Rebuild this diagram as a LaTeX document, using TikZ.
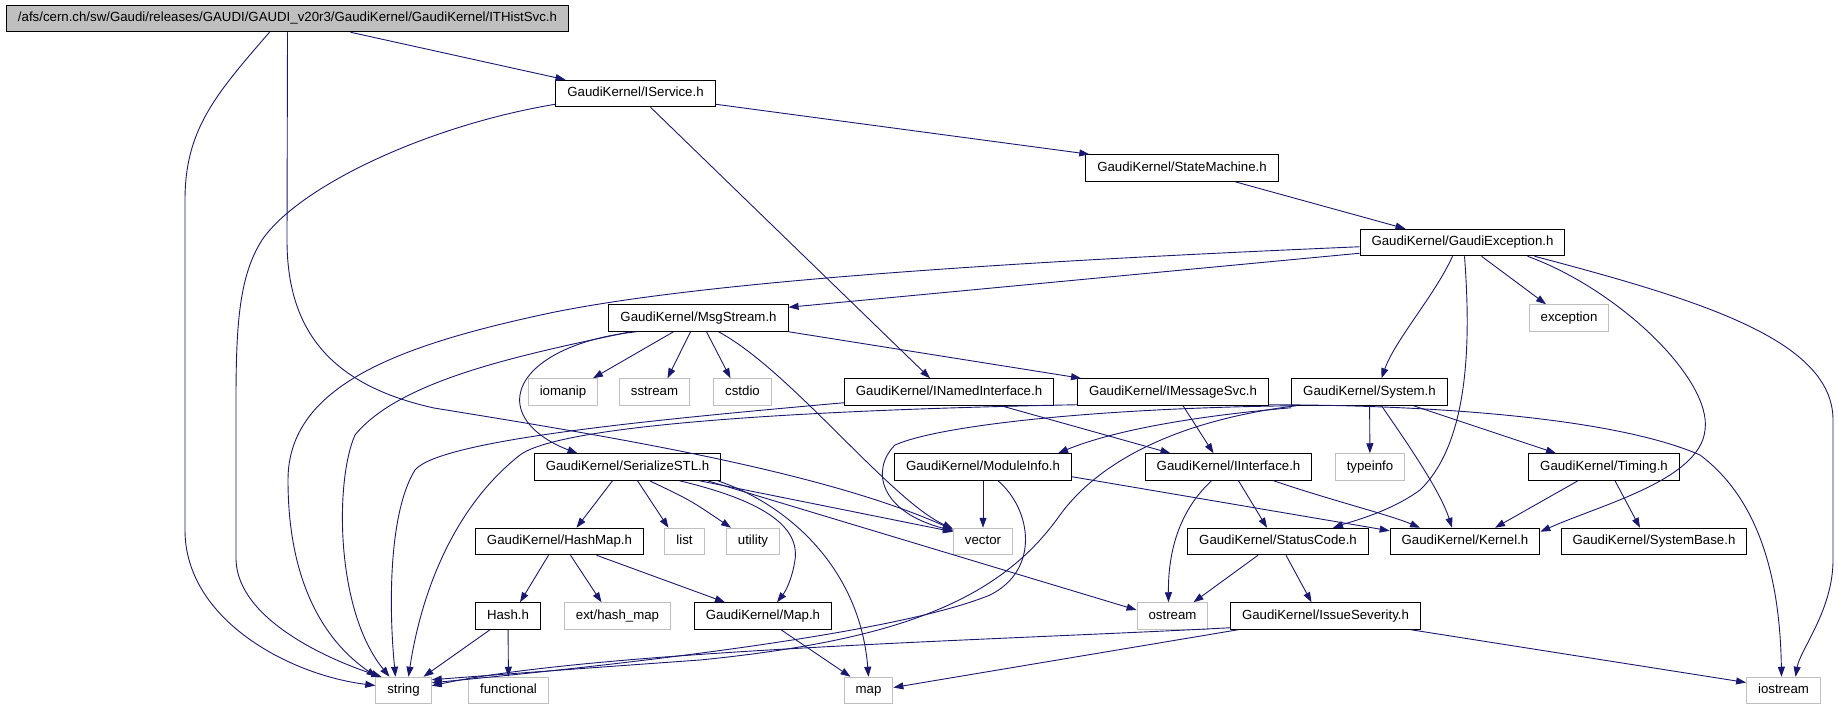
\documentclass[tikz,border=0pt]{standalone}
\usepackage{fontspec}
\setmainfont{Liberation Sans}
\usepackage{xcolor}
\usetikzlibrary{arrows.meta}
\definecolor{midnight}{HTML}{191970}
\definecolor{boxgray}{HTML}{BFBFBF}

\begin{document}
\begin{tikzpicture}[
  x=1pt, y=-1pt,
  header/.style={rectangle,draw=black,line width=1pt,inner xsep=11.5pt,inner ysep=0pt,
    minimum height=26.5pt,text height=9.6pt,text depth=2.7pt,font=\fontsize{13.25}{15}\selectfont},
  stdheader/.style={header,draw=boxgray},
  mainheader/.style={header,fill=boxgray},
  incl/.style={draw=midnight,line width=0.9pt,-{Triangle[length=10pt,width=7pt]}}
]
  \useasboundingbox (0,0) rectangle (1838,709);
  \node[mainheader] (hist) at (287.5,18.5) {/afs/cern.ch/sw/Gaudi/releases/GAUDI/GAUDI\_v20r3/GaudiKernel/GaudiKernel/ITHistSvc.h};
  \node[header] (isvc) at (635.5,93.5) {GaudiKernel/IService.h};
  \node[header] (stm) at (1182,168) {GaudiKernel/StateMachine.h};
  \node[header] (gex) at (1462.5,242.5) {GaudiKernel/GaudiException.h};
  \node[header] (msg) at (698.5,318) {GaudiKernel/MsgStream.h};
  \node[stdheader] (exc) at (1569,318) {exception};
  \node[stdheader] (iom) at (563,392) {iomanip};
  \node[stdheader] (sst) at (654.5,392) {sstream};
  \node[stdheader] (cst) at (742.5,392) {cstdio};
  \node[header] (nii) at (949,392) {GaudiKernel/INamedInterface.h};
  \node[header] (ims) at (1173,392) {GaudiKernel/IMessageSvc.h};
  \node[header] (sys) at (1369.5,392) {GaudiKernel/System.h};
  \node[header] (ser) at (627.5,467) {GaudiKernel/SerializeSTL.h};
  \node[header] (mod) at (983,467) {GaudiKernel/ModuleInfo.h};
  \node[header] (iif) at (1228.5,467) {GaudiKernel/IInterface.h};
  \node[stdheader] (tpi) at (1370,467) {typeinfo};
  \node[header] (tim) at (1604,467) {GaudiKernel/Timing.h};
  \node[header] (hmp) at (559.5,541.5) {GaudiKernel/HashMap.h};
  \node[stdheader] (lst) at (684.5,541.5) {list};
  \node[stdheader] (utl) at (753,541.5) {utility};
  \node[stdheader] (vec) at (983,541.5) {vector};
  \node[header] (stc) at (1278,541.5) {GaudiKernel/StatusCode.h};
  \node[header] (ker) at (1465,541.5) {GaudiKernel/Kernel.h};
  \node[header] (sbs) at (1654,541.5) {GaudiKernel/SystemBase.h};
  \node[header] (hsh) at (508,616) {Hash.h};
  \node[stdheader] (ehm) at (617.5,616) {ext/hash\_map};
  \node[header] (mph) at (763,616) {GaudiKernel/Map.h};
  \node[stdheader] (ost) at (1172.5,616) {ostream};
  \node[header] (iss) at (1325.5,616) {GaudiKernel/IssueSeverity.h};
  \node[stdheader] (str) at (403.5,690.5) {string};
  \node[stdheader] (fun) at (508.5,690.5) {functional};
  \node[stdheader] (smap) at (868.5,690.5) {map};
  \node[stdheader] (ios) at (1783.5,690.5) {iostream};

  \draw[incl] ([xshift=63pt]hist.south) -- ([xshift=-70pt]isvc.north);
  \draw[incl] ([xshift=-18pt]hist.south) .. controls (215,95) and (185,130) .. (185,200) -- (185,530) .. controls (185,620) and (290,675) .. ([yshift=5pt]str.west);
  \draw[incl] (hist.south) -- (287,240) .. controls (287,330) and (330,385) .. (434,408) .. controls (600,435) and (820,470) .. ([yshift=-2pt]vec.north west);

  \draw[incl] ([yshift=3pt]isvc.south east) -- ([xshift=4pt]stm.north west);
  \draw[incl] ([yshift=3pt]isvc.south west) .. controls (430,125) and (300,185) .. (262,240) .. controls (240,275) and (236,320) .. (236,400) -- (236,560) .. controls (238,620) and (330,660) .. ([xshift=-22pt]str.north);
  \draw[incl] ([xshift=15pt]isvc.south) -- ([xshift=-19pt]nii.north);
  \draw[incl] ([xshift=53pt]stm.south) -- ([xshift=-57pt]gex.north);

  \draw[incl] ([yshift=3pt]gex.south west) -- ([yshift=-3pt]msg.north east);
  \draw[incl] ([yshift=-18pt]gex.north west) .. controls (1000,262) and (700,282) .. (550,313) .. controls (400,345) and (288,385) .. (288,480) .. controls (288,590) and (330,645) .. ([xshift=-27pt]str.north);
  \draw[incl] ([xshift=19pt]gex.south) -- ([xshift=-23pt]exc.north);
  \draw[incl] ([xshift=-10pt]gex.south) .. controls (1435,295) and (1395,340) .. ([xshift=12pt]sys.north);
  \draw[incl] ([xshift=2pt]gex.south) .. controls (1470,330) and (1472,440) .. (1420,490) .. controls (1390,512) and (1350,522) .. ([xshift=55pt]stc.north);
  \draw[incl] ([xshift=65pt]gex.south) .. controls (1620,290) and (1712,380) .. (1705,430) .. controls (1700,480) and (1600,505) .. ([yshift=-4pt]ker.north east);
  \draw[incl] ([xshift=72pt]gex.south) .. controls (1700,300) and (1833,340) .. (1833,420) -- (1833,560) .. controls (1833,610) and (1800,650) .. ([xshift=12pt]ios.north);

  \draw[incl] ([xshift=-25pt]msg.south) -- ([xshift=30pt]iom.north);
  \draw[incl] ([xshift=-8pt]msg.south) -- ([xshift=13pt]sst.north);
  \draw[incl] ([xshift=8pt]msg.south) -- ([xshift=-12pt]cst.north);
  \draw[incl] ([xshift=20pt]msg.south) .. controls (790,370) and (890,500) .. ([yshift=-1pt]vec.north west);
  \draw[incl] (msg.south east) -- ([xshift=4pt]ims.north west);
  \draw[incl] ([xshift=-62pt]msg.south) .. controls (560,340) and (515,372) .. (520,405) .. controls (524,430) and (555,445) .. ([xshift=-50pt]ser.north);
  \draw[incl] ([xshift=-68pt]msg.south) .. controls (520,355) and (400,380) .. (355,435) .. controls (335,480) and (335,610) .. ([xshift=-14pt]str.north);

  \draw[incl] ([xshift=-15pt]ser.south) -- ([xshift=17pt]hmp.north);
  \draw[incl] ([xshift=10pt]ser.south) -- ([xshift=-16pt]lst.north);
  \draw[incl] ([xshift=22pt]ser.south) .. controls (690,500) .. ([xshift=-22pt]utl.north);
  \draw[incl] ([xshift=52pt]ser.south) .. controls (760,500) and (800,525) .. (795,560) .. controls (792,580) and (785,592) .. ([xshift=14pt]mph.north);
  \draw[incl] ([xshift=72pt]ser.south) -- ([yshift=-4pt]vec.north west);
  \draw[incl] ([xshift=80pt]ser.south) -- ([yshift=6pt]ost.west);
  \draw[incl] ([xshift=90pt]ser.south) .. controls (790,505) and (860,570) .. (smap.north);

  \draw[incl] ([xshift=-11pt]hmp.south) -- ([xshift=12pt]hsh.north);
  \draw[incl] ([xshift=11pt]hmp.south) -- ([xshift=-16pt]ehm.north);
  \draw[incl] ([xshift=37pt]hmp.south) -- ([xshift=-38pt]mph.north);
  \draw[incl] ([xshift=-18pt]hsh.south) -- ([xshift=20pt]str.north);
  \draw[incl] (hsh) -- (fun);
  \draw[incl] ([xshift=18pt]mph.south) -- ([xshift=-18pt]smap.north);

  \draw[incl] ([xshift=52pt]nii.south) -- ([xshift=-58pt]iif.north);
  \draw[incl] ([yshift=3pt]nii.south west) .. controls (650,420) and (440,440) .. (415,470) .. controls (390,510) and (388,600) .. ([xshift=-8pt]str.north);
  \draw[incl] ([xshift=10pt]ims.south) -- ([xshift=-15pt]iif.north);
  \draw[incl] ([yshift=1pt]ims.south west) .. controls (800,410) and (560,425) .. (520,455) .. controls (450,510) and (420,600) .. ([xshift=5pt]str.north);
  \draw[incl] ([yshift=1pt]ims.south east) .. controls (1450,405) and (1620,420) .. (1700,455) .. controls (1760,500) and (1780,580) .. ([xshift=-2pt]ios.north);

  \draw[incl] ([yshift=-2pt]sys.south west) .. controls (1150,420) and (1090,440) .. ([xshift=75pt]mod.north);
  \draw[incl] ([xshift=3pt]sys.south west) .. controls (1100,408) and (940,425) .. (895,445) .. controls (870,470) and (880,512) .. ([yshift=-3pt]vec.north west);
  \draw[incl] ([xshift=5pt]sys.south west) .. controls (1180,420) and (1100,460) .. (1060,515) .. controls (1000,600) and (900,640) .. (700,660) .. controls (560,670) and (480,676) .. ([yshift=-3pt]str.north east);
  \draw[incl] (sys) -- (tpi);
  \draw[incl] ([xshift=12pt]sys.south) .. controls (1405,440) and (1440,490) .. ([xshift=-13pt]ker.north);
  \draw[incl] ([xshift=44pt]sys.south) -- ([xshift=-48pt]tim.north);

  \draw[incl] (mod) -- (vec);
  \draw[incl] ([yshift=4pt]mod.south east) -- ([yshift=-3pt]ker.north west);
  \draw[incl] ([xshift=15pt]mod.south) .. controls (1032,510) and (1040,570) .. (990,595) .. controls (900,632) and (650,662) .. ([yshift=-6pt]str.north east);

  \draw[incl] ([xshift=-17pt]iif.south) .. controls (1180,510) and (1168,550) .. ([xshift=-4pt]ost.north);
  \draw[incl] ([xshift=10pt]iif.south) -- ([xshift=-11pt]stc.north);
  \draw[incl] ([xshift=45pt]iif.south) .. controls (1330,500) and (1390,515) .. ([xshift=-45pt]ker.north);
  \draw[incl] ([xshift=-26pt]tim.south) -- ([xshift=30pt]ker.north);
  \draw[incl] ([xshift=11pt]tim.south) -- ([xshift=-14pt]sbs.north);
  \draw[incl] ([xshift=-20pt]stc.south) -- ([xshift=21pt]ost.north);
  \draw[incl] ([xshift=8pt]stc.south) -- ([xshift=-14pt]iss.north);

  \draw[incl] ([yshift=2pt]iss.south west) .. controls (1000,640) and (600,650) .. ([yshift=-9pt]str.north east);
  \draw[incl] ([xshift=8pt]iss.south west) -- ([yshift=3pt]smap.east);
  \draw[incl] ([xshift=-10pt]iss.south east) -- ([yshift=8pt]ios.west);
\end{tikzpicture}
\end{document}
